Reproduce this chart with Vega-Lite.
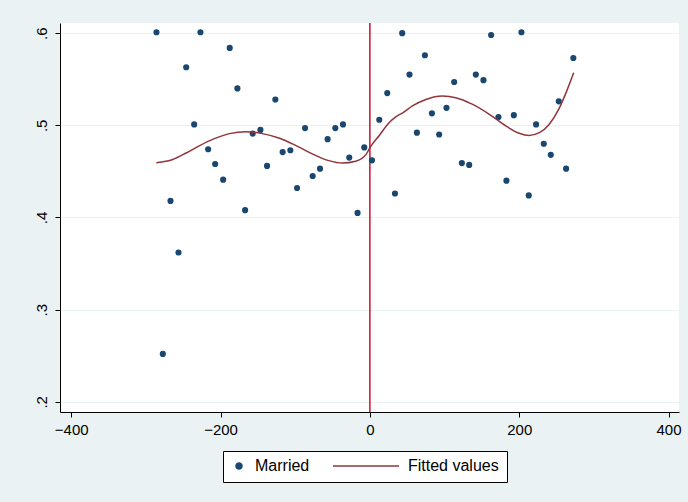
{
  "$schema": "https://vega.github.io/schema/vega-lite/v6.json",
  "autosize": {"type": "none"},
  "padding": {"left": 60, "top": 23, "right": 9, "bottom": 90},
  "width": 619,
  "height": 389,
  "background": "#EAF2F3",
  "config": {
    "font": "Liberation Sans",
    "view": {"fill": "white", "stroke": null},
    "axis": {"labelFont": "Liberation Sans", "labelColor": "black", "labelFontSize": 15, "tickColor": "black", "domainColor": "black", "tickSize": 5, "domainWidth": 1, "tickWidth": 1, "title": null}
  },
  "datasets": {
    "married": [
      {"x": -285.8, "y": 0.601}, {"x": -277.3, "y": 0.252}, {"x": -267.0, "y": 0.418}, {"x": -256.3, "y": 0.362},
      {"x": -246.0, "y": 0.563}, {"x": -235.3, "y": 0.501}, {"x": -226.9, "y": 0.601}, {"x": -216.6, "y": 0.474},
      {"x": -207.2, "y": 0.458}, {"x": -196.5, "y": 0.441}, {"x": -187.7, "y": 0.584}, {"x": -177.4, "y": 0.540},
      {"x": -167.1, "y": 0.408}, {"x": -156.9, "y": 0.491}, {"x": -146.6, "y": 0.495}, {"x": -137.7, "y": 0.456},
      {"x": -126.6, "y": 0.528}, {"x": -116.8, "y": 0.471}, {"x": -106.5, "y": 0.473}, {"x": -97.5, "y": 0.432},
      {"x": -86.8, "y": 0.497}, {"x": -76.6, "y": 0.445}, {"x": -66.8, "y": 0.453}, {"x": -56.6, "y": 0.485},
      {"x": -46.3, "y": 0.497}, {"x": -36.0, "y": 0.501}, {"x": -27.6, "y": 0.465}, {"x": -16.5, "y": 0.405},
      {"x": -7.5, "y": 0.476}, {"x": 2.8, "y": 0.462}, {"x": 12.6, "y": 0.506}, {"x": 23.3, "y": 0.535},
      {"x": 33.6, "y": 0.426}, {"x": 43.3, "y": 0.600}, {"x": 53.1, "y": 0.555}, {"x": 63.0, "y": 0.492},
      {"x": 73.7, "y": 0.576}, {"x": 83.1, "y": 0.513}, {"x": 92.8, "y": 0.490}, {"x": 102.6, "y": 0.519},
      {"x": 112.9, "y": 0.547}, {"x": 123.2, "y": 0.459}, {"x": 133.0, "y": 0.457}, {"x": 141.9, "y": 0.555},
      {"x": 152.1, "y": 0.549}, {"x": 162.4, "y": 0.598}, {"x": 172.2, "y": 0.509}, {"x": 182.9, "y": 0.440},
      {"x": 192.8, "y": 0.511}, {"x": 203.0, "y": 0.601}, {"x": 212.8, "y": 0.424}, {"x": 222.6, "y": 0.501},
      {"x": 232.9, "y": 0.480}, {"x": 242.3, "y": 0.468}, {"x": 253.0, "y": 0.526}, {"x": 262.8, "y": 0.453},
      {"x": 272.5, "y": 0.573}
    ],
    "fit": [
      {"x": -286, "y": 0.4595}, {"x": -264, "y": 0.463}, {"x": -246, "y": 0.470}, {"x": -228, "y": 0.478},
      {"x": -210, "y": 0.485}, {"x": -188, "y": 0.491}, {"x": -166, "y": 0.493}, {"x": -144, "y": 0.491},
      {"x": -121, "y": 0.486}, {"x": -99, "y": 0.478}, {"x": -77, "y": 0.469}, {"x": -55, "y": 0.4617},
      {"x": -37, "y": 0.459}, {"x": -19, "y": 0.461}, {"x": -5, "y": 0.4685}, {"x": 0, "y": 0.4758},
      {"x": 12.6, "y": 0.489}, {"x": 26, "y": 0.503}, {"x": 35, "y": 0.5095}, {"x": 44, "y": 0.5135},
      {"x": 57, "y": 0.521}, {"x": 75, "y": 0.528}, {"x": 97, "y": 0.5317}, {"x": 115, "y": 0.530},
      {"x": 137, "y": 0.523}, {"x": 160, "y": 0.512}, {"x": 182, "y": 0.4994}, {"x": 200, "y": 0.4914},
      {"x": 213, "y": 0.489}, {"x": 227, "y": 0.492}, {"x": 240, "y": 0.501}, {"x": 253, "y": 0.5175},
      {"x": 264.5, "y": 0.539}, {"x": 273, "y": 0.557}
    ],
    "cutoff": [{"x": 0}]
  },
  "encoding": {
    "x": {"field": "x", "type": "quantitative", "scale": {"domain": [-415, 414], "nice": false, "zero": false},
      "axis": {"values": [-400, -200, 0, 200, 400], "grid": false, "labelPadding": 5, "labelFlush": false}},
    "y": {"field": "y", "type": "quantitative", "scale": {"domain": [0.189, 0.611], "nice": false, "zero": false},
      "axis": {"values": [0.2, 0.3, 0.4, 0.5, 0.6], "grid": true, "gridColor": "#EAF2F3", "gridWidth": 1.2,
        "labelExpr": "slice(format(datum.value, '.1f'), 1)", "labelAngle": -90, "labelAlign": "center", "labelBaseline": "bottom", "labelPadding": 6}}
  },
  "layer": [
    {
      "data": {"name": "cutoff"},
      "mark": {"type": "rule", "color": "#C8102E", "strokeWidth": 1.5},
      "encoding": {"x": {"field": "x", "type": "quantitative"}, "y": null}
    },
    {
      "data": {"name": "married"},
      "transform": [{"calculate": "'Married'", "as": "series"}],
      "mark": {"type": "point", "filled": true, "opacity": 1},
      "encoding": {
        "color": {"field": "series", "type": "nominal",
          "scale": {"domain": ["Married", "Fitted values"], "range": ["#1A476F", "#90353B"]},
          "legend": {
            "title": null, "orient": "none", "legendX": 163, "legendY": 428, "direction": "horizontal",
            "strokeColor": "black", "fillColor": "white", "padding": 8, "clipHeight": 14,
            "labelFont": "Liberation Sans", "labelFontSize": 16, "labelColor": "black", "labelOffset": 8, "columnPadding": 22,
            "symbolStrokeWidth": 1.3, "symbolOpacity": 1
          }},
        "shape": {"field": "series", "type": "nominal",
          "scale": {"domain": ["Married", "Fitted values"], "range": ["circle", "stroke"]},
          "legend": {"title": null}},
        "size": {"field": "series", "type": "nominal",
          "scale": {"domain": ["Married", "Fitted values"], "range": [38, 4356]},
          "legend": {"title": null}}
      }
    },
    {
      "data": {"name": "fit"},
      "transform": [{"calculate": "'Fitted values'", "as": "series"}],
      "mark": {"type": "line", "strokeWidth": 1.5, "interpolate": "monotone"},
      "encoding": {"color": {"field": "series", "type": "nominal"}}
    }
  ]
}
